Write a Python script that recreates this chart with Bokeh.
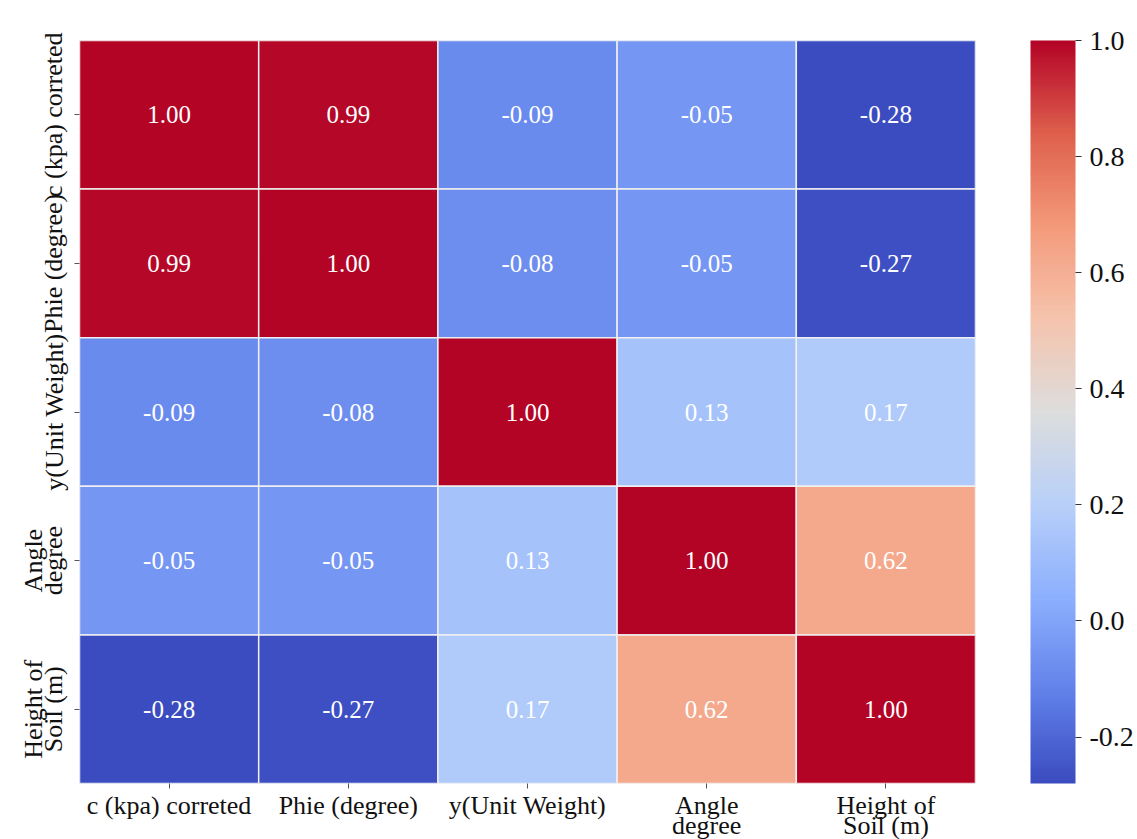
from bokeh.plotting import figure
from bokeh.models import (ColumnDataSource, LinearColorMapper, ColorBar, FixedTicker,
                          PrintfTickFormatter)
from bokeh.embed import file_html
from bokeh.resources import INLINE

# ---- data ----
labels = ["c (kpa) correted", "Phie (degree)", "y(Unit Weight)", "Angle\ndegree", "Height of\nSoil (m)"]
row_c = [1.00, 0.99, -0.09, -0.05, -0.28]
row_phie = [0.99, 1.00, -0.08, -0.05, -0.27]
row_unit = [-0.09, -0.08, 1.00, 0.13, 0.17]
row_angle = [-0.05, -0.05, 0.13, 1.00, 0.62]
row_height = [-0.28, -0.27, 0.17, 0.62, 1.00]
rows = [row_c, row_phie, row_unit, row_angle, row_height]
cbar_ticks = [-0.2, 0.0, 0.2, 0.4, 0.6, 0.8, 1.0]
vmin, vmax = -0.28, 1.0

# ---- coolwarm palette ----
anchors = [(59, 76, 192), (98, 130, 234), (141, 176, 254), (184, 208, 249), (221, 221, 221),
           (245, 196, 173), (244, 154, 123), (222, 96, 77), (180, 4, 38)]
palette = []
n = 256
for i in range(n):
    t = i / (n - 1) * (len(anchors) - 1)
    k = min(int(t), len(anchors) - 2)
    f = t - k
    c = tuple(int(round(anchors[k][j] + (anchors[k + 1][j] - anchors[k][j]) * f)) for j in range(3))
    palette.append("#%02x%02x%02x" % c)

xs, ys, vals, txt = [], [], [], []
for r, row in enumerate(rows):
    for c, v in enumerate(row):
        xs.append(labels[c])
        ys.append(labels[r])
        vals.append(v)
        txt.append("%.2f" % v)
src = ColumnDataSource(dict(x=xs, y=ys, v=vals, t=txt))

mapper = LinearColorMapper(palette=palette, low=vmin, high=vmax)
FONT = "Liberation Serif"

p = figure(x_range=labels, y_range=list(reversed(labels)),
           frame_width=896, frame_height=743,
           min_border_left=79, min_border_top=40, min_border_bottom=56, min_border_right=0,
           output_backend="svg", toolbar_location=None, outline_line_color=None)
p.rect(x="x", y="y", width=1, height=1, source=src,
       fill_color={"field": "v", "transform": mapper},
       line_color="#f0f0f0", line_width=1.5)
p.text(x="x", y="y", text="t", source=src, text_color="white",
       text_align="center", text_baseline="middle", text_font_size="25px",
       text_font={"value": FONT})

p.grid.grid_line_color = None
for ax in (p.xaxis[0], p.yaxis[0]):
    ax.axis_line_color = None
    ax.major_tick_line_color = "#555555"
    ax.major_tick_out = 5
    ax.major_tick_in = 0
    ax.major_label_text_font = FONT
    ax.major_label_text_font_size = "26px"
    ax.major_label_text_color = "#111111"
    ax.major_label_text_line_height = 0.72
p.xaxis.major_label_standoff = 2
p.yaxis.major_label_standoff = 6
p.yaxis.major_label_orientation = "vertical"

cb = ColorBar(color_mapper=mapper, width=45, height=743, padding=0, margin=0,
              location=(55, 0),
              ticker=FixedTicker(ticks=cbar_ticks),
              formatter=PrintfTickFormatter(format="%.1f"),
              major_label_text_font=FONT, major_label_text_font_size="28px",
              major_label_text_color="#111111",
              major_tick_in=0, major_tick_out=6, major_tick_line_color="#333333",
              bar_line_color=None, border_line_color=None, label_standoff=8)
p.add_layout(cb, "right")

open("out.html", "w").write(file_html(p, INLINE))
